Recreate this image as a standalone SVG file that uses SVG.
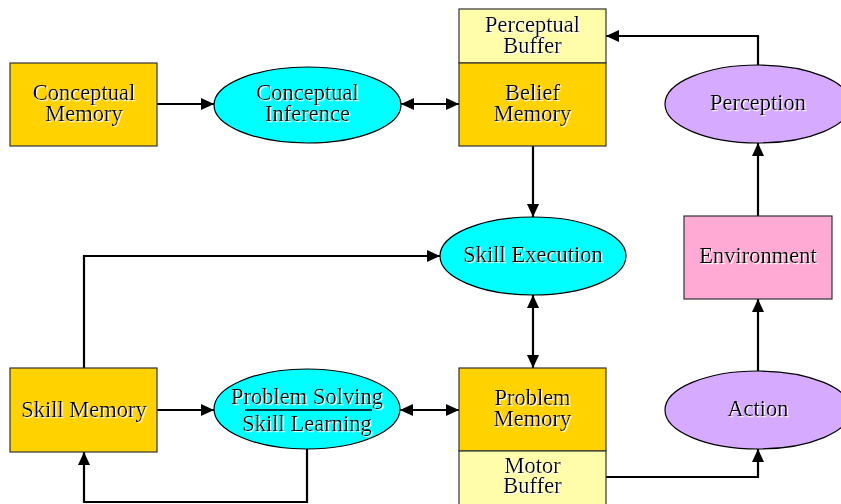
<svg xmlns="http://www.w3.org/2000/svg" width="841" height="504" viewBox="0 0 841 504">
  <style>
    .mem { fill: #FFD200; stroke: #333333; stroke-width: 1.2; }
    .buf { fill: #FFFCAA; stroke: #333333; stroke-width: 1.2; }
    .env { fill: #FFAAD4; stroke: #333333; stroke-width: 1.2; }
    .proc { fill: #00FFFF; stroke: #000000; stroke-width: 1.2; }
    .io { fill: #D5AAFF; stroke: #000000; stroke-width: 1.2; }
    text { font-family: "Liberation Serif", "Times New Roman", serif; font-size: 22.5px; text-anchor: middle; fill: #000000; filter: url(#halo); }
    .edge { fill: none; stroke: #000000; stroke-width: 2.2; }
  </style>
  <defs>
    <!-- white offset shadow under the labels -->
    <filter id="halo" x="-5%" y="-20%" width="115%" height="150%">
      <feDropShadow dx="1.2" dy="1.2" stdDeviation="0.2" flood-color="#FFFFFF" flood-opacity="1"/>
    </filter>
    <marker id="head" viewBox="0 0 13 12" refX="13" refY="6" markerWidth="13" markerHeight="12" markerUnits="userSpaceOnUse" orient="auto-start-reverse">
      <path d="M0,0 L13,6 L0,12 z" fill="#000000"/>
    </marker>
  </defs>

  <rect width="841" height="504" fill="#FFFFFF"/>

  <!-- connectors -->
  <g id="connectors">
    <path class="edge" d="M157,104 H214" marker-end="url(#head)"/>
    <path class="edge" d="M401,104 H459" marker-start="url(#head)" marker-end="url(#head)"/>
    <path class="edge" d="M533,146 V217" marker-end="url(#head)"/>
    <path class="edge" d="M533,295 V368" marker-start="url(#head)" marker-end="url(#head)"/>
    <path class="edge" d="M84,368 V256 H440" marker-end="url(#head)"/>
    <path class="edge" d="M157,410 H214" marker-end="url(#head)"/>
    <path class="edge" d="M400,410 H459" marker-start="url(#head)" marker-end="url(#head)"/>
    <path class="edge" d="M307,449 V502 H84 V452" marker-end="url(#head)"/>
    <path class="edge" d="M606,477 H758 V449" marker-end="url(#head)"/>
    <path class="edge" d="M758,371 V299" marker-end="url(#head)"/>
    <path class="edge" d="M758,216 V143" marker-end="url(#head)"/>
    <path class="edge" d="M758,65 V36 H606" marker-end="url(#head)"/>
  </g>

  <g id="conceptual-memory">
    <rect class="mem" x="10" y="63" width="147" height="83"/>
    <text x="84" y="100">Conceptual<tspan x="84" y="121">Memory</tspan></text>
  </g>

  <g id="conceptual-inference">
    <ellipse class="proc" cx="307.5" cy="105" rx="93.5" ry="38"/>
    <text x="307.5" y="100">Conceptual<tspan x="307.5" y="121">Inference</tspan></text>
  </g>

  <g id="perceptual-buffer">
    <rect class="buf" x="459" y="9" width="147" height="54"/>
    <text x="532.5" y="32">Perceptual<tspan x="532.5" y="53">Buffer</tspan></text>
  </g>

  <g id="belief-memory">
    <rect class="mem" x="459" y="63" width="147" height="83"/>
    <text x="532.5" y="100">Belief<tspan x="532.5" y="121">Memory</tspan></text>
  </g>

  <g id="perception">
    <ellipse class="io" cx="758" cy="104" rx="93" ry="39"/>
    <text x="758" y="110">Perception</text>
  </g>

  <g id="skill-execution">
    <ellipse class="proc" cx="533" cy="256" rx="93" ry="39"/>
    <text x="533" y="262">Skill Execution</text>
  </g>

  <g id="environment">
    <rect class="env" x="684" y="216" width="148" height="83"/>
    <text x="758" y="263">Environment</text>
  </g>

  <g id="skill-memory">
    <rect class="mem" x="10" y="368" width="147" height="84"/>
    <text x="84" y="417">Skill Memory</text>
  </g>

  <g id="problem-solving">
    <ellipse class="proc" cx="307" cy="409" rx="93" ry="40"/>
    <text x="307" y="404">Problem Solving</text>
    <line x1="245" y1="410" x2="372" y2="410" stroke="#000000" stroke-width="1.3"/>
    <text x="307" y="431">Skill Learning</text>
  </g>

  <g id="problem-memory">
    <rect class="mem" x="459" y="368" width="147" height="83"/>
    <text x="532.5" y="405">Problem<tspan x="532.5" y="426">Memory</tspan></text>
  </g>

  <g id="motor-buffer">
    <rect class="buf" x="459" y="451" width="147" height="60"/>
    <text x="532.5" y="473">Motor<tspan x="532.5" y="493">Buffer</tspan></text>
  </g>

  <g id="action">
    <ellipse class="io" cx="758" cy="410" rx="93" ry="39"/>
    <text x="758" y="416">Action</text>
  </g>
</svg>
